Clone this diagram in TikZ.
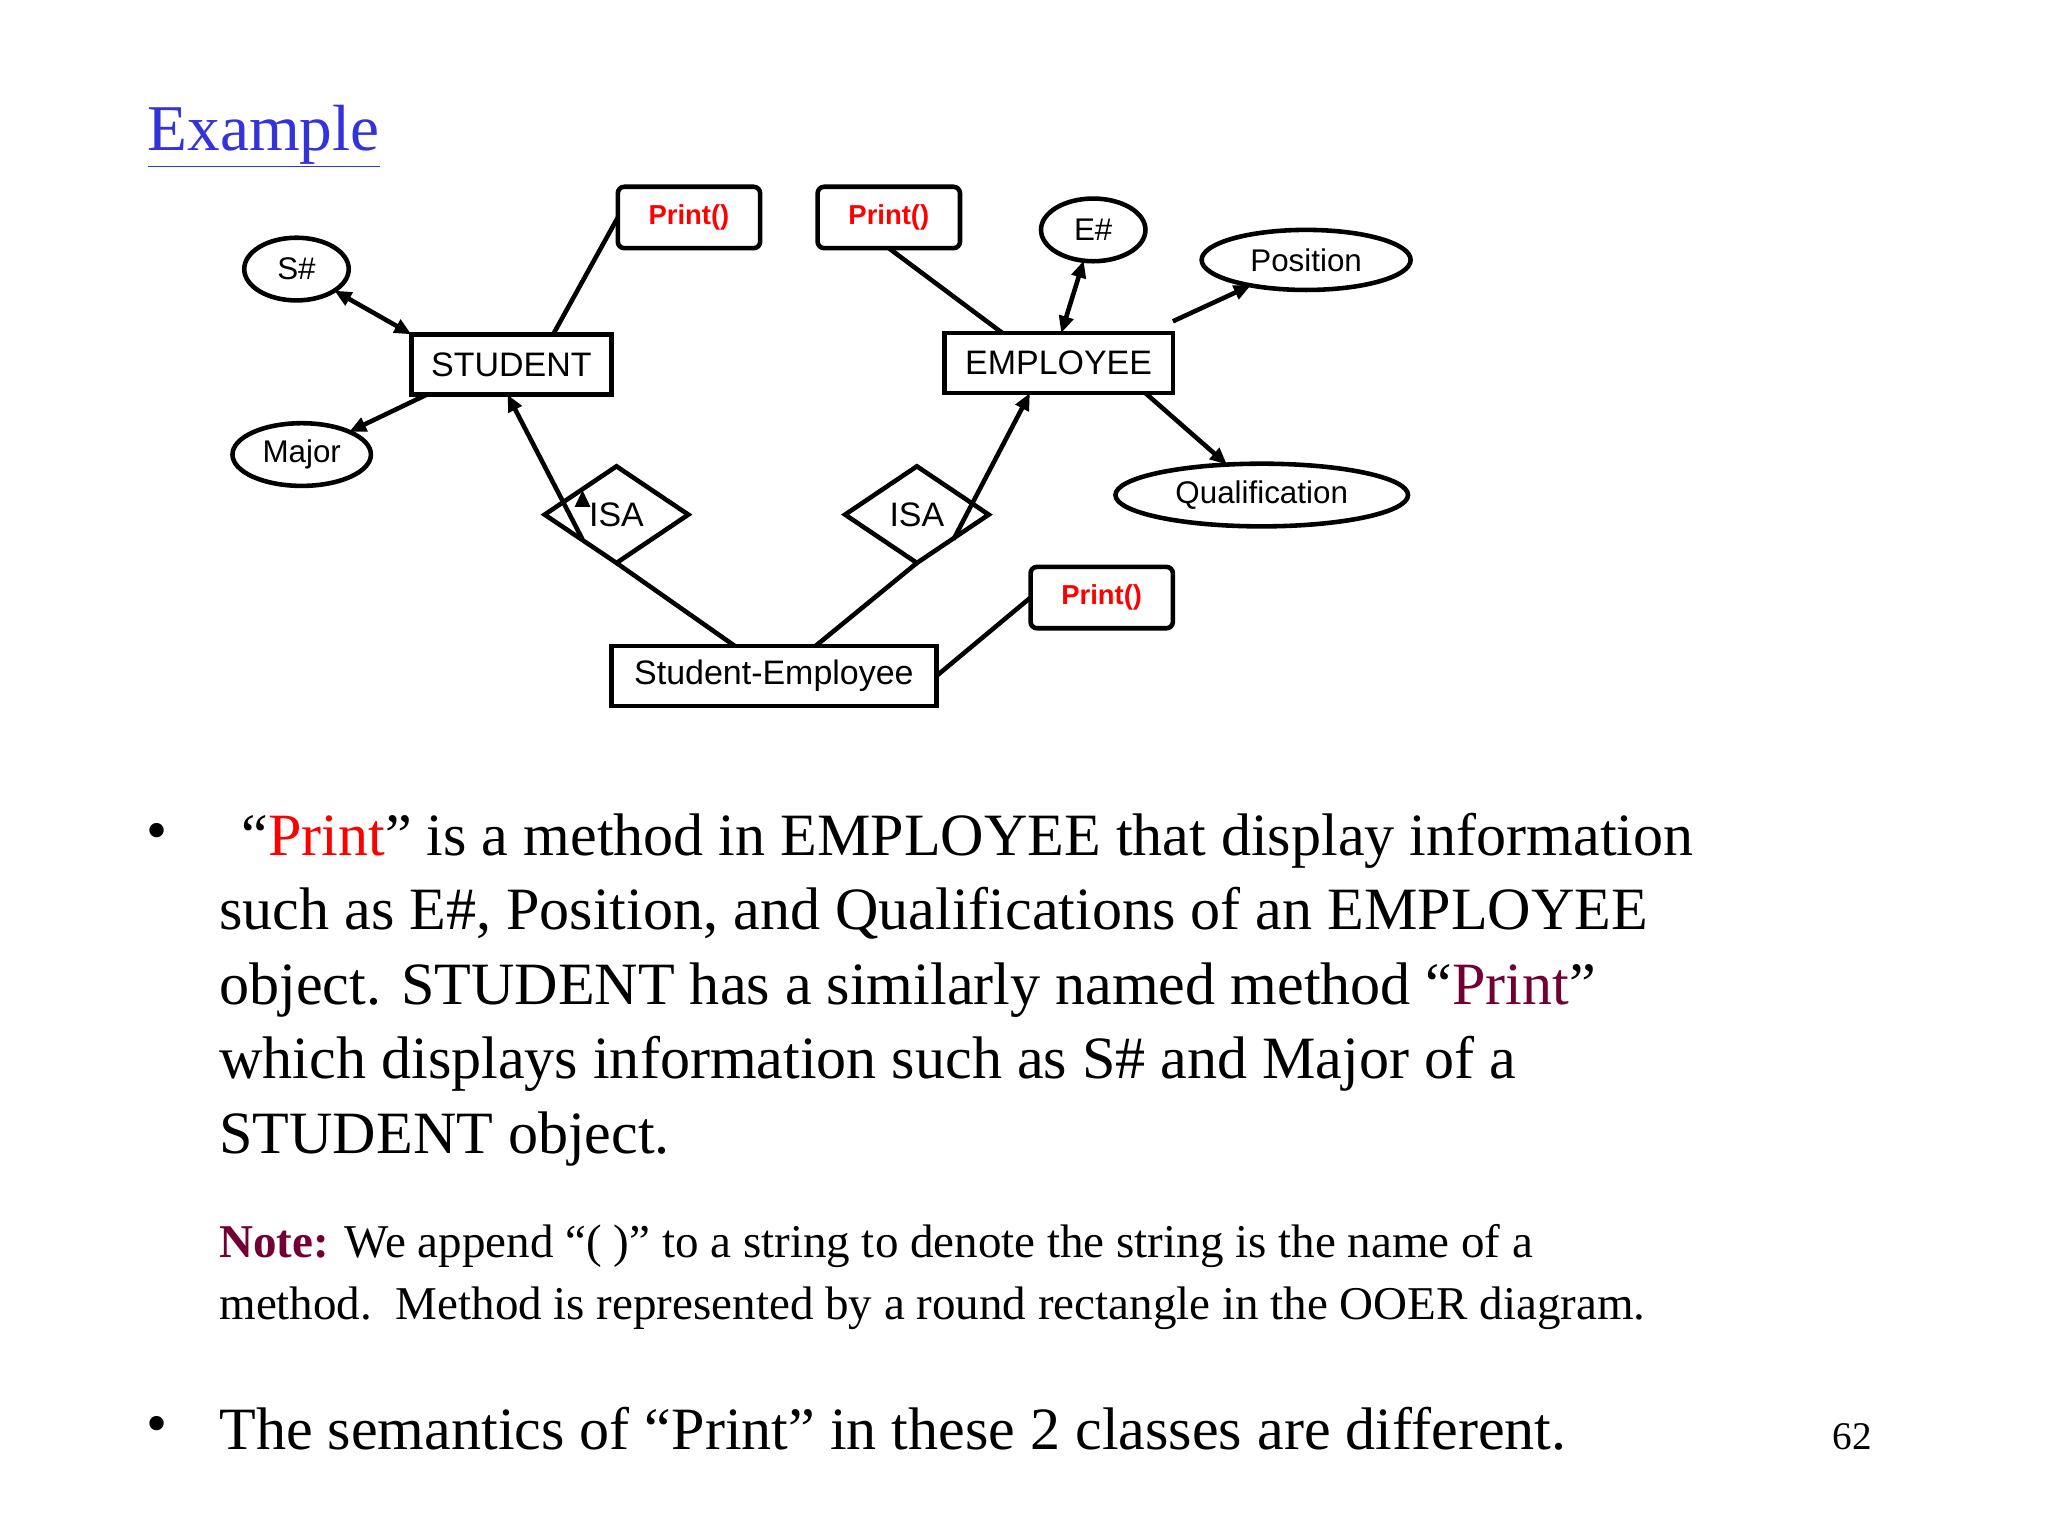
\documentclass[tikz,border=0pt]{standalone}
\usepackage{fontspec}
\setmainfont{Liberation Serif}
\newfontfamily\diag{Liberation Sans}
\usetikzlibrary{shapes.geometric,arrows.meta}
\definecolor{maroon}{rgb}{0.45,0,0.2}
\definecolor{linkblue}{rgb}{0.2,0.2,0.85}
\begin{document}
\begin{tikzpicture}[x=1pt,y=-1pt,
  every node/.style={inner sep=0pt,outer sep=0pt},
  ent/.style={draw,line width=3.5pt,minimum height=46pt,font=\diag\fontsize{26}{30}\selectfont},
  meth/.style={draw,line width=3.5pt,rounded corners=5pt,minimum width=109pt,minimum height=47pt,text=red,font=\diag\bfseries\fontsize{21}{25}\selectfont},
  att/.style={draw,ellipse,line width=3.5pt,minimum height=48pt,font=\diag\fontsize{24}{28}\selectfont},
  isa/.style={draw,diamond,aspect=1.5,line width=3.5pt,minimum width=110pt,minimum height=74pt,font=\diag\fontsize{26}{30}\selectfont},
  ln/.style={line width=3.5pt},
  ar/.style={line width=3.5pt,-{Triangle[length=13pt,width=11pt]}},
  dar/.style={line width=3.5pt,{Triangle[length=13pt,width=11pt]}-{Triangle[length=13pt,width=11pt]}},
  body/.style={anchor=base west,font=\fontsize{46}{52}\selectfont},
  nbody/.style={anchor=base west,font=\fontsize{36}{40}\selectfont}]
\useasboundingbox[fill=white] (0,0) rectangle (1568,1176);
\node[anchor=base west,text=linkblue,font=\fontsize{50}{56}\selectfont] (title) at (113,115) {\underline{Example}};
% diagram
\node[ent,minimum width=153pt] (stu) at (391.5,279) {STUDENT};
\node[ent,minimum width=175pt] (emp) at (810.5,278) {EMPLOYEE};
\node[ent,minimum width=249pt] (se) at (592.5,517.5) {Student-Employee};
\node[meth] (p1) at (527.5,166.5) {Print()};
\node[meth] (p2) at (680.5,166.5) {Print()};
\node[meth] (p3) at (843.5,457.5) {Print()};
\node[att,minimum width=80pt] (s) at (227,206) {S\#};
\node[att,minimum width=106pt] (maj) at (231,348) {Major};
\node[att,minimum width=80pt] (e) at (837,176) {E\#};
\node[att,minimum width=160pt,minimum height=46pt] (pos) at (1000,199) {Position};
\node[att,minimum width=224pt] (q) at (966,379) {Qualification};
\node[isa] (i1) at (472,394) {ISA};
\node[isa] (i2) at (702,394) {ISA};
\draw[dar] (s) -- (stu.north west);
\draw[ar] ([xshift=12pt]stu.south west) -- (maj);
\draw[ln] ([xshift=32pt]stu.north) -- (p1.west);
\draw[ar] (i1.north) ++(-26pt,-18pt) coordinate (c1);
\draw[ar] (i1) ++(-26pt,-19pt) -- ([xshift=-3pt]stu.south);
\draw[ln] (i1.south) -- ([xshift=-30pt]se.north);
\draw[ar] (i2) ++(28pt,-19pt) -- ([xshift=-22pt]emp.south);
\draw[ln] (i2.south) -- ([xshift=32pt]se.north);
\draw[ln] (p2.south) -- ([xshift=-43pt]emp.north);
\draw[dar] (e) -- ([xshift=2pt]emp.north);
\draw[ar] ([yshift=9pt]emp.north east) -- (pos);
\draw[ar] ([xshift=-21pt]emp.south east) -- (q);
\draw[ln] (se.east) -- (p3.west);
% text
\node[anchor=center,font=\fontsize{46}{52}\selectfont] (b1) at (120,641) {\textbullet};
\node[body] (l1) at (185,655) {“\textcolor{red}{Print}” is a method in EMPLOYEE that display information};
\node[body] (l2) at (168,712) {such as E\#, Position, and Qualifications of an EMPLOYEE};
\node[body] (l3) at (168,769) {object. STUDENT has a similarly named method “\textcolor{maroon}{Print}”};
\node[body] (l4) at (168,826) {which displays information such as S\# and Major of a};
\node[body] (l5) at (168,883) {STUDENT object.};
\node[nbody] (n1) at (168,963) {\textcolor{maroon}{\textbf{Note:}} We append “( )” to a string to denote the string is the name of a};
\node[nbody] (n2) at (168,1010) {method.\ \ Method is represented by a round rectangle in the OOER diagram.};
\node[anchor=center,font=\fontsize{46}{52}\selectfont] (b2) at (120,1095) {\textbullet};
\node[body] (l6) at (168,1110) {The semantics of “Print” in these 2 classes are different.};
\node[anchor=base west,font=\fontsize{30}{34}\selectfont] (pg) at (1403,1110) {62};
\end{tikzpicture}
\end{document}
